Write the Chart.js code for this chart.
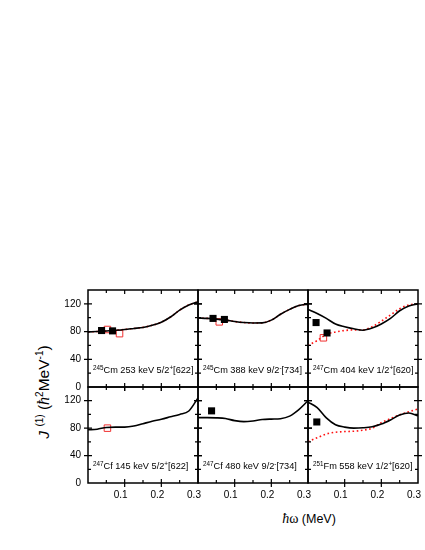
<!DOCTYPE html>
<html>
<head>
<meta charset="utf-8">
<script src="https://cdn.jsdelivr.net/npm/chart.js@4.4.1/dist/chart.umd.min.js"></script>
<style>
  body { margin: 0; width: 425px; height: 550px; position: relative; overflow: hidden; background: #fff;
         font-family: "Liberation Sans", Arial, sans-serif; color: #000; }
  canvas { position: absolute; }
  .lab { position: absolute; font-size: 9.2px; line-height: 12px; white-space: nowrap; }
  .lab sup { font-size: 6.3px; vertical-align: 3px; line-height: 0; }
  #ytitle { position: absolute; left: 44px; top: 392px; transform: translate(-50%, -50%) rotate(-90deg);
            font-size: 15.5px; white-space: nowrap; }
  #ytitle sup { font-size: 10px; vertical-align: 6px; line-height: 0; }
  #xtitle { position: absolute; left: 309px; top: 519px; transform: translate(-50%, -50%);
            font-size: 12.5px; white-space: nowrap; }
  .serif { font-family: "Liberation Serif", "DejaVu Serif", serif; font-size: 14px; }
</style>
</head>
<body>
<div id="ytitle"><i>J</i> <sup>(1)</sup> (<i class="serif" style="font-size:16px">ħ</i><sup>2</sup>MeV<sup>-1</sup>)</div>
<div id="xtitle"><span class="serif"><i>ħ</i>ω</span> (MeV)</div>
<script>
// rotational frequency grid (MeV) for the calculated curves
const omega = [0, 0.025, 0.05, 0.075, 0.1, 0.125, 0.15, 0.175, 0.2, 0.225, 0.25, 0.275, 0.3];

// calculated J(1), solid black
const cm245a_calc = [79.5, 80, 80.8, 81.8, 83, 84.5, 86, 89, 93.5, 101, 111, 118.5, 123];
const cm245b_calc = [99.5, 99, 98, 96.5, 94.5, 93, 92.3, 92.5, 96.5, 105, 112, 117.5, 119.5];
const cm247_calc  = [112, 106, 99, 91, 87, 84, 82, 85, 91, 99, 110, 117, 120];
const cf247a_calc = [77.6, 78.5, 81, 81.5, 81.5, 83, 86.5, 90, 93, 96.5, 100, 105, 124];
const cf247b_calc = [95.3, 95.3, 95, 94, 91, 89.5, 90.5, 92.5, 93.2, 93.8, 97.5, 107, 120];
const fm251_calc  = [118, 110, 95, 85, 81.5, 80, 80.5, 82, 86, 92, 99, 102, 98];

// calculated J(1), red dotted
const cm247_calcB = [60, 67, 76, 79.5, 81.5, 82.5, 82.5, 87, 95, 104, 113, 118.5, 120];
const fm251_calcB = [60.5, 66, 71.5, 74, 75, 75.5, 77, 80, 88, 94, 99.5, 104, 108];

// experimental points: filled black / open red
const cm245a_expX = [0.037, 0.067], cm245a_expY = [81.5, 81];
const cm245a_redX = [0.053, 0.086], cm245a_redY = [83, 77];
const cm245b_expX = [0.041, 0.072], cm245b_expY = [99, 97.5];
const cm245b_redX = [0.058], cm245b_redY = [94];
const cm247_expX = [0.022, 0.052], cm247_expY = [93, 78];
const cm247_redX = [0.042], cm247_redY = [71];
const cf247a_expX = [], cf247a_expY = [];
const cf247a_redX = [0.053], cf247a_redY = [80];
const cf247b_expX = [0.037], cf247b_expY = [105.2];
const cf247b_redX = [], cf247b_redY = [];
const fm251_expX = [0.024], fm251_expY = [89];
const fm251_redX = [], fm251_redY = [];

// axes
const xTickLabels = [0.1, 0.2, 0.3];
const yTickLabels = [0, 40, 80, 120];

const panels = [
  { label: '<sup>245</sup>Cm 253 keV 5/2<sup>+</sup>[622]', calc: cm245a_calc, calcB: cm245a_calc,
    expX: cm245a_expX, expY: cm245a_expY, redX: cm245a_redX, redY: cm245a_redY },
  { label: '<sup>245</sup>Cm 388 keV 9/2<sup>-</sup>[734]', calc: cm245b_calc, calcB: cm245b_calc,
    expX: cm245b_expX, expY: cm245b_expY, redX: cm245b_redX, redY: cm245b_redY },
  { label: '<sup>247</sup>Cm 404 keV 1/2<sup>+</sup>[620]', calc: cm247_calc, calcB: cm247_calcB,
    expX: cm247_expX, expY: cm247_expY, redX: cm247_redX, redY: cm247_redY },
  { label: '<sup>247</sup>Cf 145 keV 5/2<sup>+</sup>[622]', calc: cf247a_calc, calcB: null,
    expX: cf247a_expX, expY: cf247a_expY, redX: cf247a_redX, redY: cf247a_redY },
  { label: '<sup>247</sup>Cf 480 keV 9/2<sup>-</sup>[734]', calc: cf247b_calc, calcB: null,
    expX: cf247b_expX, expY: cf247b_expY, redX: cf247b_redX, redY: cf247b_redY },
  { label: '<sup>251</sup>Fm 558 keV 1/2<sup>+</sup>[620]', calc: fm251_calc, calcB: fm251_calcB,
    expX: fm251_expX, expY: fm251_expY, redX: fm251_redX, redY: fm251_redY },
];

const colEdges = [88, 198, 308, 418];
const rowEdges = [290, 387, 483];

// frame + in/out tick marks, Origin style
const framePlugin = {
  id: 'frame',
  afterDraw(chart) {
    const { ctx, chartArea: a, scales: { x, y } } = chart;
    ctx.save();
    ctx.strokeStyle = '#000';
    ctx.lineWidth = 1.2;
    ctx.beginPath();
    const line = (x1, y1, x2, y2) => { ctx.moveTo(x1, y1); ctx.lineTo(x2, y2); };
    [0.1, 0.2].forEach(v => {
      const px = x.getPixelForValue(v);
      line(px, a.bottom - 4, px, a.bottom + 4);
      line(px, a.top, px, a.top + 4);
    });
    [0.05, 0.15, 0.25].forEach(v => {
      const px = x.getPixelForValue(v);
      line(px, a.bottom - 3, px, a.bottom);
      line(px, a.top, px, a.top + 3);
    });
    [40, 80, 120].forEach(v => {
      const py = y.getPixelForValue(v);
      line(a.left - 4, py, a.left + 4, py);
      line(a.right - 4, py, a.right + 4, py);
    });
    [20, 60, 100].forEach(v => {
      const py = y.getPixelForValue(v);
      line(a.left, py, a.left + 3, py);
      line(a.right - 3, py, a.right, py);
    });
    ctx.stroke();
    ctx.lineWidth = 1.5;
    ctx.strokeRect(a.left, a.top, a.right - a.left, a.bottom - a.top);
    ctx.restore();
  }
};

const pts = (xs, ys) => xs.map((v, i) => ({ x: v, y: ys[i] }));

panels.forEach((p, i) => {
  const col = i % 3, row = Math.floor(i / 3);
  const isLeft = col === 0, isBottom = row === 1;
  const mL = isLeft ? 48 : 8, mR = 12, mT = 8, mB = isBottom ? 24 : 8;
  const w = colEdges[col + 1] - colEdges[col];
  const h = rowEdges[row + 1] - rowEdges[row];

  const cv = document.createElement('canvas');
  cv.width = w + mL + mR;
  cv.height = h + mT + mB;
  cv.style.left = (colEdges[col] - mL) + 'px';
  cv.style.top = (rowEdges[row] - mT) + 'px';
  document.body.appendChild(cv);

  const datasets = [
    { data: pts(p.expX, p.expY), showLine: false, pointStyle: 'rect', pointRadius: 5,
      backgroundColor: '#000', borderColor: '#000', borderWidth: 0 },
    { data: pts(omega, p.calc), borderColor: '#000', borderWidth: 1.6, pointRadius: 0,
      cubicInterpolationMode: 'monotone' },
    { data: pts(p.redX, p.redY), showLine: false, pointStyle: 'rect', pointRadius: 4.6,
      backgroundColor: 'rgba(0,0,0,0)', borderColor: '#f03030', borderWidth: 1 },
  ];
  if (p.calcB) {
    datasets.push({ data: pts(omega, p.calcB), borderColor: '#ff1010', borderWidth: 1.6,
      borderDash: [1.6, 2.6], pointRadius: 0, cubicInterpolationMode: 'monotone' });
  }

  new Chart(cv, {
    type: 'line',
    data: { datasets },
    options: {
      responsive: false,
      animation: false,
      devicePixelRatio: 1,
      layout: { padding: { left: isLeft ? 8 : mL, right: mR, top: mT, bottom: isBottom ? 8 : mB } },
      plugins: { legend: { display: false }, tooltip: { enabled: false } },
      scales: {
        x: {
          type: 'linear', min: 0, max: 0.3, display: isBottom,
          afterFit: s => { s.height = isBottom ? 16 : 0; s.paddingLeft = 0; s.paddingRight = 0; },
          afterBuildTicks: s => { s.ticks = xTickLabels.map(v => ({ value: v })); },
          grid: { display: false, drawTicks: false }, border: { display: false },
          ticks: { color: '#000', font: { family: 'Liberation Sans', size: 10 }, padding: 6,
                   labelOffset: -4, maxRotation: 0, autoSkip: false,
                   callback: v => v.toFixed(1) }
        },
        y: {
          type: 'linear', min: 0, max: 140, display: isLeft,
          afterFit: s => { s.width = isLeft ? 40 : 0; s.paddingTop = 0; s.paddingBottom = 0; },
          afterBuildTicks: s => { s.ticks = yTickLabels.map(v => ({ value: v })); },
          grid: { display: false, drawTicks: false }, border: { display: false },
          ticks: { color: '#000', font: { family: 'Liberation Sans', size: 10 }, padding: 7,
                   autoSkip: false }
        }
      }
    },
    plugins: [framePlugin]
  });

  const lab = document.createElement('div');
  lab.className = 'lab';
  lab.innerHTML = p.label;
  lab.style.left = (colEdges[col] + 5) + 'px';
  lab.style.top = (rowEdges[row + 1] - 23) + 'px';
  document.body.appendChild(lab);
});
</script>
</body>
</html>
